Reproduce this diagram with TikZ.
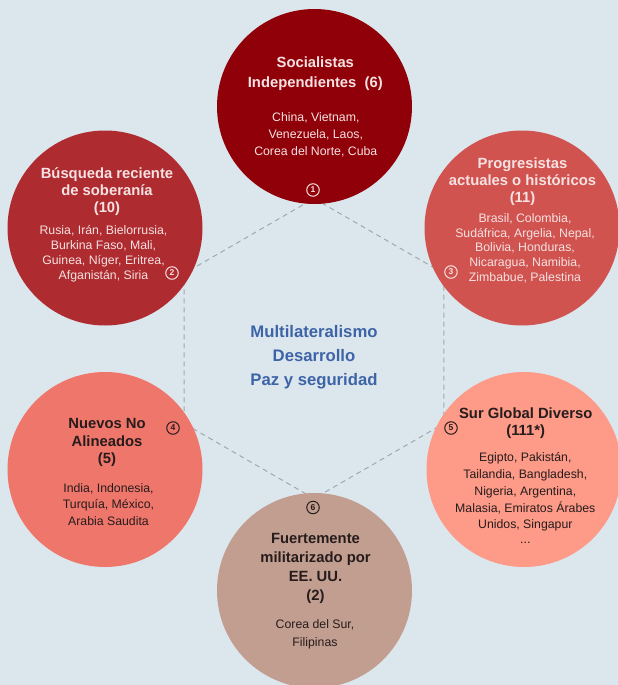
\documentclass[tikz,border=0pt]{standalone}
\usepackage{fontspec}
\setmainfont{Liberation Sans}
\definecolor{bg}{RGB}{220,230,237}
\definecolor{cA}{RGB}{144,0,8}
\definecolor{cB}{RGB}{174,43,48}
\definecolor{cC}{RGB}{208,83,79}
\definecolor{cD}{RGB}{239,118,107}
\definecolor{cE}{RGB}{253,154,136}
\definecolor{cF}{RGB}{194,158,144}
\definecolor{lighttxt}{RGB}{246,226,226}
\definecolor{darktxt}{RGB}{38,28,28}
\definecolor{centretxt}{RGB}{62,100,168}
\definecolor{hexgrey}{RGB}{160,168,176}
\tikzset{
  bubble/.style={circle, minimum size=195pt, inner sep=0pt},
  ttl/.style={align=center, inner sep=0pt, font={\fontsize{14.8}{#1}\selectfont\bfseries}},
  bdy/.style={align=center, inner sep=0pt, font={\fontsize{12.3}{#1}\selectfont}},
  badge/.style={circle, draw, line width=1pt, minimum size=12.5pt, inner sep=0pt, font={\fontsize{8.5}{9}\selectfont\bfseries}},
  hexline/.style={draw=hexgrey, line width=1pt, dash pattern=on 5pt off 4pt},
  centrestyle/.style={align=center, inner sep=0pt, text=centretxt, font={\fontsize{16.7}{24}\selectfont\bfseries}}
}
\begin{document}
\begin{tikzpicture}[x=1pt,y=-1pt]
\useasboundingbox (0,0) rectangle (618,685);
\fill[bg] (0,0) rectangle (618,685);
% hexagon
\coordinate (h1) at (314,198.5);
\coordinate (h2) at (443.9,273.5);
\coordinate (h3) at (443.9,423.5);
\coordinate (h4) at (314,498.5);
\coordinate (h5) at (184.1,423.5);
\coordinate (h6) at (184.1,273.5);
\draw[hexline] (h1) -- (h2) -- (h3) -- (h4) -- (h5) -- (h6) -- cycle;
% circles
\node[bubble, fill=cA] (k1) at (314.5,106.5) {};
\node[bubble, fill=cB] (k2) at (105,228) {};
\node[bubble, fill=cC] (k3) at (522,228) {};
\node[bubble, fill=cD] (k4) at (105,469.5) {};
\node[bubble, fill=cE] (k5) at (524,469.5) {};
\node[bubble, fill=cF] (k6) at (314.5,590.5) {};
% centre text
\node[centrestyle] (mid) at (314,357) {Multilateralismo\\Desarrollo\\Paz y seguridad};
% circle 1
\node[ttl=19.3, text=lighttxt] (t1) at (315.3,73.7) {Socialistas\\Independientes\ \ (6)};
\node[bdy=17, text=lighttxt] (b1) at (315.8,135.3) {China, Vietnam,\\Venezuela, Laos,\\Corea del Norte, Cuba};
\node[badge, draw=lighttxt, text=lighttxt] (n1) at (313,190) {1};
% circle 2
\node[ttl=17, text=lighttxt] (t2) at (107,192) {Búsqueda reciente\\de soberanía\\(10)};
\node[bdy=15, text=lighttxt] (b2) at (103.5,254.2) {Rusia, Irán, Bielorrusia,\\Burkina Faso, Mali,\\Guinea, Níger, Eritrea,\\Afganistán, Siria};
\node[badge, draw=lighttxt, text=lighttxt] (n2) at (172,273) {2};
% circle 3
\node[ttl=17, text=lighttxt] (t3) at (522.5,182) {Progresistas\\actuales o históricos\\(11)};
\node[bdy=14.6, text=lighttxt] (b3) at (525,248.2) {Brasil, Colombia,\\Sudáfrica, Argelia, Nepal,\\Bolivia, Honduras,\\Nicaragua, Namibia,\\Zimbabue, Palestina};
\node[badge, draw=lighttxt, text=lighttxt] (n3) at (451,272) {3};
% circle 4
\node[ttl=17.5, text=darktxt] (t4) at (107,442.5) {Nuevos No\\Alineados\\(5)};
\node[bdy=16.2, text=darktxt] (b4) at (108.5,504.5) {India, Indonesia,\\Turquía, México,\\Arabia Saudita};
\node[badge, draw=darktxt, text=darktxt] (n4) at (173,428) {4};
% circle 5
\node[ttl=17.4, text=darktxt] (t5) at (525.7,423) {Sur Global Diverso\\(111*)};
\node[bdy=16.8, text=darktxt] (b5) at (525.3,492) {Egipto, Pakistán,\\Tailandia, Bangladesh,\\Nigeria, Argentina,\\Malasia, Emiratos Árabes\\Unidos, Singapur};
\node[bdy=12, text=darktxt, anchor=base] (e5) at (525.3,543.5) {...};
\node[badge, draw=darktxt, text=darktxt] (n5) at (451,428) {5};
% circle 6
\node[ttl=18.9, text=darktxt] (t6) at (315.5,568.3) {Fuertemente\\militarizado por\\EE. UU.\\(2)};
\node[bdy=17.6, text=darktxt] (b6) at (315,634.5) {Corea del Sur,\\Filipinas};
\node[badge, draw=darktxt, text=darktxt] (n6) at (313,507.5) {6};
\end{tikzpicture}
\end{document}
